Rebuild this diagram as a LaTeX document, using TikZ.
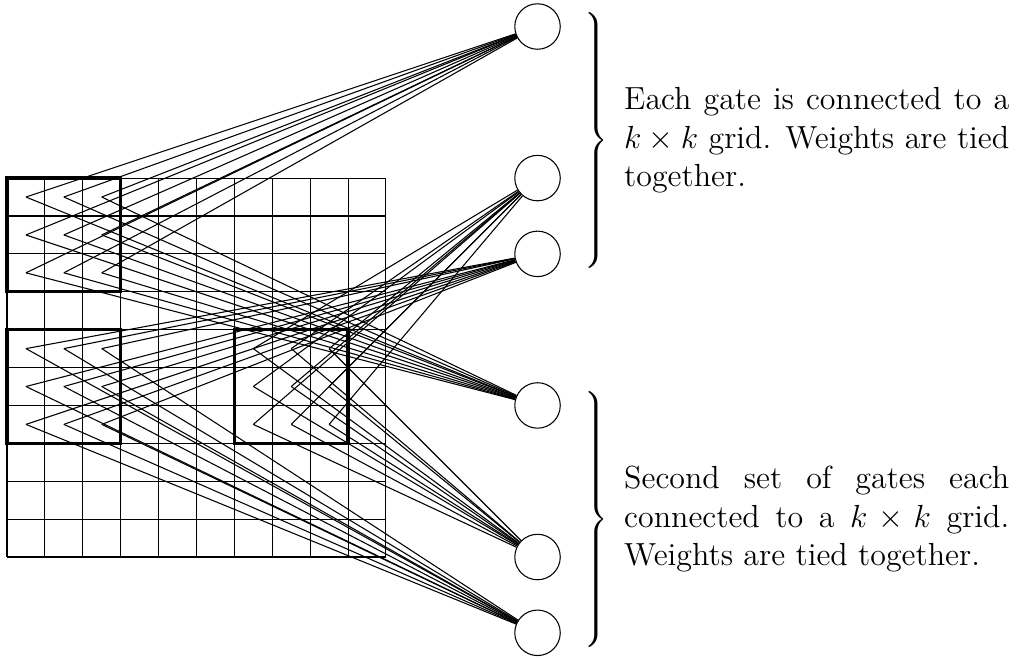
\documentclass[tikz,border=0pt,12pt]{standalone}
\usepackage{tikz}
\usetikzlibrary{positioning}

\begin{document}
\begin{tikzpicture}[
  x=5mm, y=5mm,
  gate/.style={circle, draw, minimum size=6mm, inner sep=0pt},
  patch/.style={draw, very thick},
  wire/.style={line width=0.4pt},
  brace/.style={anchor=west, inner sep=0pt},
  note/.style={text width=5.08cm, align=justify, inner sep=4pt},
]
\useasboundingbox (-0.185,-2.64) rectangle (26.68,14.70);

% Input grid
\draw[step=5mm] (0,0) grid (10,10);

% Gates
\node[gate] (g1) at (14,14) {};
\node[gate] (g2) at (14,10) {};
\node[gate] (g3) at (14,8) {};
\node[gate] (g4) at (14,4) {};
\node[gate] (g5) at (14,0) {};
\node[gate] (g6) at (14,-2) {};

% k x k patches and their connections
\foreach \name/\x/\y/\up/\down in {tl/0/7/g1/g4, ml/0/3/g3/g6, mc/6/3/g2/g5} {
  \draw[patch] (\x,\y) rectangle ++(3,3);
  \foreach \i in {0,1,2} {
    \foreach \j in {0,1,2} {
      \coordinate (\name-\i\j) at (\x+\i+0.5,\y+\j+0.5);
      \draw[wire] (\name-\i\j) -- (\up);
      \draw[wire] (\name-\i\j) -- (\down);
    }
  }
}

% Braces and notes
\node[brace] (brace-top) at (15.15,11)
  {$\left.\vrule height 51.5pt depth 45.5pt width 0pt\right\}$};
\node[note, right=1.5pt of brace-top] (note-top)
  {Each gate is connected to a $k \times k$ grid. Weights are tied together.};

\node[brace] (brace-bot) at (15.15,1)
  {$\left.\vrule height 51.5pt depth 45.5pt width 0pt\right\}$};
\node[note, right=1.5pt of brace-bot] (note-bot)
  {Second set of gates each connected to a $k \times k$ grid. Weights are tied together.};
\end{tikzpicture}
\end{document}
